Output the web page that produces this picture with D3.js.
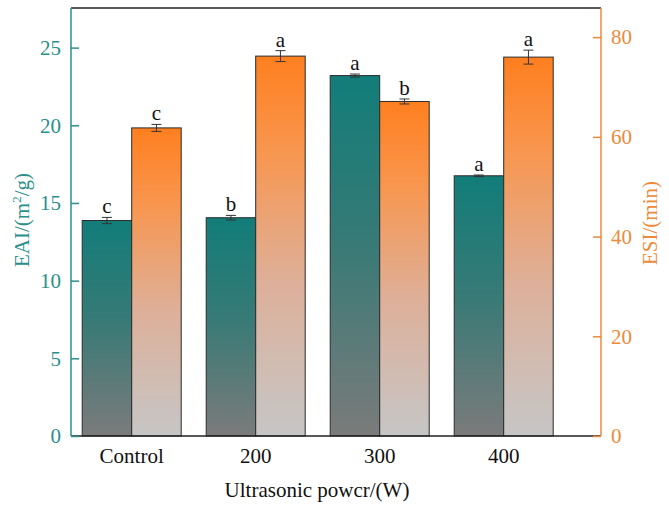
<!DOCTYPE html>
<html><head><meta charset="utf-8">
<script src="https://cdn.jsdelivr.net/npm/d3@7"></script>
<style>body{margin:0;background:#fff}svg{display:block}svg text{font-family:"Liberation Serif","DejaVu Serif",serif !important}</style>
</head><body><svg id="c" width="669" height="516"></svg>
<script>
const categories = ["Control","200","300","400"];
const eaiValues = [13.87, 14.05, 23.2, 16.75];
const eaiErrors = [0.2, 0.15, 0.1, 0.05];
const eaiLetters = ["c","b","a","a"];
const esiValues = [61.8, 76.2, 67.1, 76.0];
const esiErrors = [0.7, 1.1, 0.5, 1.4];
const esiLetters = ["c","a","b","a"];
const eaiTicks = [0,5,10,15,20,25];
const esiTicks = [0,20,40,60,80];

const svg = d3.select("#c");
const L = 71, R = 601, T = 8, B = 436;
const teal = "#2a8f8a", orange = "#ec8a3a";
const serif = '"Liberation Serif", "DejaVu Serif", serif';

const x = d3.scaleBand().domain(categories).range([69.7, 565.7]).padding(0);
const bw = 49.5;
const yL = d3.scaleLinear().domain([0, 27.55]).range([B, T]);
const yR = d3.scaleLinear().domain([0, 85.85]).range([B, T]);

const defs = svg.append("defs");
const g1 = defs.append("linearGradient").attr("id","gT").attr("x1",0).attr("y1",0).attr("x2",0).attr("y2",1);
g1.append("stop").attr("offset","0%").attr("stop-color","#127d79");
g1.append("stop").attr("offset","45%").attr("stop-color","#367a76");
g1.append("stop").attr("offset","100%").attr("stop-color","#7b7b7b");
const g2 = defs.append("linearGradient").attr("id","gO").attr("x1",0).attr("y1",0).attr("x2",0).attr("y2",1);
g2.append("stop").attr("offset","0%").attr("stop-color","#ff7f1f");
g2.append("stop").attr("offset","25%").attr("stop-color","#f8964f");
g2.append("stop").attr("offset","60%").attr("stop-color","#ddb09a");
g2.append("stop").attr("offset","100%").attr("stop-color","#c6c6c6");

const cx = c => x(c) + x.bandwidth()/2;
svg.append("g").selectAll("rect").data(categories).join("rect")
  .attr("x", c => cx(c) - bw).attr("width", bw)
  .attr("y", (c,i) => yL(eaiValues[i])).attr("height", (c,i) => B - yL(eaiValues[i]))
  .attr("fill","url(#gT)").attr("stroke","#2b2b2b").attr("stroke-width",1);
svg.append("g").selectAll("rect").data(categories).join("rect")
  .attr("x", c => cx(c)).attr("width", bw)
  .attr("y", (c,i) => yR(esiValues[i])).attr("height", (c,i) => B - yR(esiValues[i]))
  .attr("fill","url(#gO)").attr("stroke","#2b2b2b").attr("stroke-width",1);

function errs(xoff, vals, errsA, scale, letters) {
  const g = svg.append("g").attr("stroke","#333").attr("stroke-width",1);
  categories.forEach((c,i) => {
    const xc = cx(c) + xoff;
    const y1 = scale(vals[i] + errsA[i]), y2 = scale(vals[i] - errsA[i]);
    g.append("line").attr("x1",xc).attr("x2",xc).attr("y1",y1).attr("y2",y2);
    g.append("line").attr("x1",xc-5).attr("x2",xc+5).attr("y1",y1).attr("y2",y1);
    g.append("line").attr("x1",xc-5).attr("x2",xc+5).attr("y1",y2).attr("y2",y2);
    svg.append("text").attr("x",xc).attr("y",y1-4).attr("text-anchor","middle")
      .style("font-family",serif).style("font-size","21px").attr("fill","#111").text(letters[i]);
  });
}
errs(-bw/2, eaiValues, eaiErrors, yL, eaiLetters);
errs(bw/2, esiValues, esiErrors, yR, esiLetters);

svg.append("line").attr("x1",L).attr("x2",R).attr("y1",T).attr("y2",T).attr("stroke","#222").attr("stroke-width",1.3);
svg.append("line").attr("x1",L).attr("x2",R).attr("y1",B).attr("y2",B).attr("stroke","#222").attr("stroke-width",1.3);

const aL = svg.append("g").attr("transform",`translate(${L},0)`)
  .call(d3.axisLeft(yL).tickValues(eaiTicks).tickSize(-8).tickPadding(12));
aL.attr("font-family", null).attr("font-size", null);
aL.select(".domain").attr("d",`M0,${B}V${T}`).attr("stroke",teal).attr("stroke-width",1.5);
aL.selectAll(".tick line").attr("stroke",teal).attr("stroke-width",1.5);
aL.selectAll(".tick text").attr("fill",teal).style("font-size","21px").style("font-family",serif).attr("x",-10);

const aR = svg.append("g").attr("transform",`translate(${R},0)`)
  .call(d3.axisRight(yR).tickValues(esiTicks).tickSize(-8).tickPadding(10));
aR.attr("font-family", null).attr("font-size", null);
aR.select(".domain").attr("d",`M0,${B}V${T}`).attr("stroke",orange).attr("stroke-width",1.5);
aR.selectAll(".tick line").attr("stroke",orange).attr("stroke-width",1.5);
aR.selectAll(".tick text").attr("fill",orange).style("font-size","21px").style("font-family",serif).attr("x",10);

svg.append("g").selectAll("text").data(categories).join("text")
  .attr("x", c => cx(c)).attr("y", 463).attr("text-anchor","middle")
  .style("font-family",serif).style("font-size","21px").attr("fill","#111").text(c => c);

svg.append("text").attr("x",317).attr("y",497).attr("text-anchor","middle")
  .style("font-family",serif).style("font-size","21px").attr("fill","#111").text("Ultrasonic powcr/(W)");

const tL = svg.append("text").attr("transform","translate(29,220) rotate(-90)")
  .attr("text-anchor","middle").style("font-family",serif).style("font-size","21px").attr("fill",teal);
tL.append("tspan").text("EAI/(m");
tL.append("tspan").style("font-size","13px").attr("dy",-8).text("2");
tL.append("tspan").attr("dy",8).text("/g)");

svg.append("text").attr("transform","translate(657,223) rotate(-90)")
  .attr("text-anchor","middle").style("font-family",serif).style("font-size","21px").attr("fill",orange).text("ESI/(min)");
</script></body></html>
